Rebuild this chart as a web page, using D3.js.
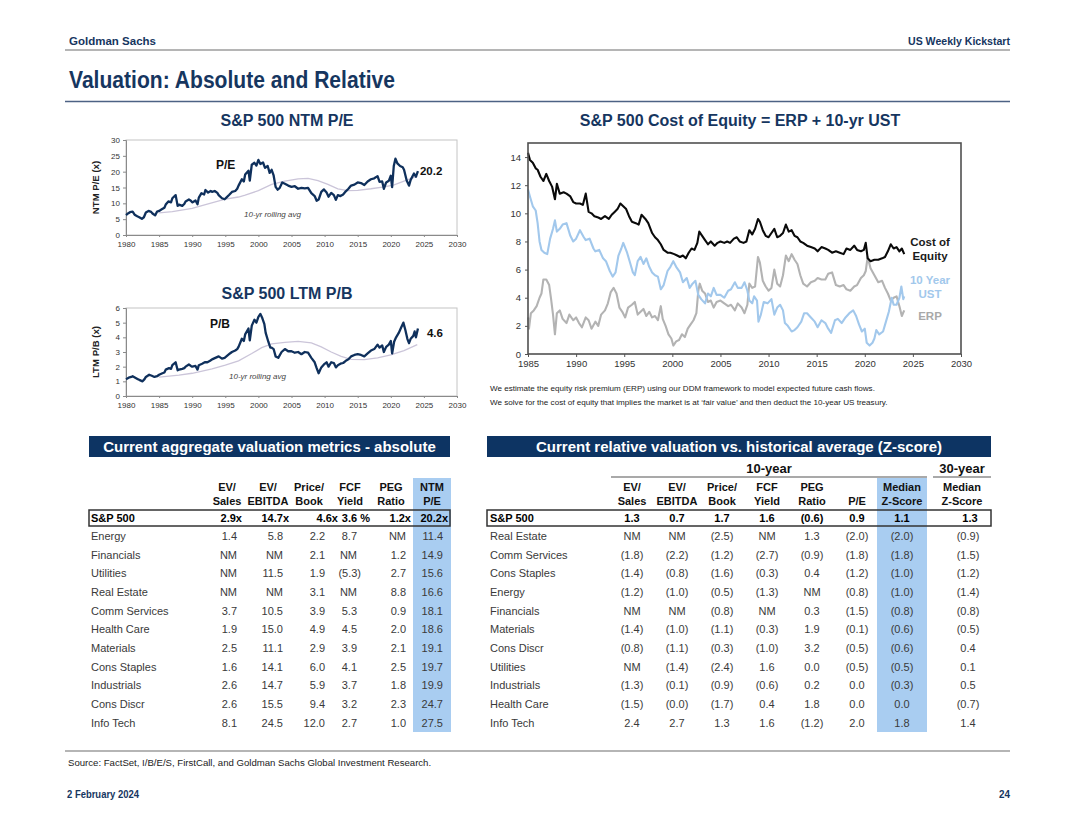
<!DOCTYPE html>
<html>
<head>
<meta charset="utf-8">
<script src="https://cdn.jsdelivr.net/npm/d3@7"></script>
<style>
body { margin: 0; background: #fff; }
svg { display: block; font-family: "Liberation Sans", Arial, sans-serif; }
</style>
</head>
<body>
<svg id="page" width="1080" height="835"></svg>
<script>
// ---- data ----
const peSeries = [[1980,6.3],[1980.3,6.8],[1980.6,7.2],[1981,7.4],[1981.3,6.4],[1981.7,5.9],[1982,5.6],[1982.4,5.1],[1982.7,5.6],[1983,7.1],[1983.4,7.6],[1983.8,7.3],[1984,6.8],[1984.4,6.2],[1984.7,7.4],[1985,7.6],[1985.4,8.1],[1985.8,8.6],[1986,9.6],[1986.4,10.6],[1986.8,10.3],[1987,11.6],[1987.5,12.6],[1987.8,9.2],[1988,9.6],[1988.5,9.2],[1988.8,9.8],[1989,10.6],[1989.5,11.2],[1989.8,10.8],[1990,10.3],[1990.5,10.9],[1990.8,9.7],[1991,11.8],[1991.4,13.2],[1991.8,12.8],[1992,14.2],[1992.4,13.4],[1992.8,13.9],[1993,13.6],[1993.4,13.9],[1993.8,13.3],[1994,12.6],[1994.5,11.6],[1994.9,11.3],[1995.2,11.9],[1995.6,12.7],[1996,13.6],[1996.5,13.9],[1996.8,14.6],[1997,15.6],[1997.5,17.6],[1997.8,16.9],[1998,19.1],[1998.5,20.3],[1998.7,17.2],[1999,22.2],[1999.4,22.8],[1999.7,21.9],[2000,23.7],[2000.3,22.4],[2000.7,22.9],[2001,21.2],[2001.4,21.8],[2001.7,19.6],[2002,20.6],[2002.3,18.8],[2002.6,15.2],[2002.9,14.3],[2003.2,14.8],[2003.6,16.6],[2004,16.2],[2004.5,15.6],[2005,15.2],[2005.5,15.4],[2006,14.6],[2006.5,14.9],[2007,14.7],[2007.5,14.9],[2008,13.2],[2008.5,12.3],[2008.8,10.8],[2009.1,11.2],[2009.5,13.6],[2009.9,14.4],[2010.3,13.4],[2010.6,12.1],[2011,13.3],[2011.4,12.6],[2011.7,11.1],[2012,12.6],[2012.4,12.3],[2012.8,12.8],[2013.2,13.8],[2013.6,14.6],[2014,15.6],[2014.5,15.9],[2015,16.6],[2015.5,16.4],[2016,15.8],[2016.5,16.9],[2017,17.6],[2017.5,17.9],[2018,18.6],[2018.3,16.8],[2018.7,16.9],[2018.95,14.6],[2019.3,16.6],[2019.7,17.1],[2020,18.7],[2020.2,15.1],[2020.45,21.8],[2020.7,24.1],[2021,22.6],[2021.4,21.8],[2021.8,21.4],[2022,20.6],[2022.4,17.2],[2022.75,15.6],[2023,17.4],[2023.5,19.4],[2023.8,18.4],[2024.1,20.2]];
const peAvg = [[1985,7.0],[1987,7.4],[1990,8.4],[1992,9.6],[1995,11.3],[1997,12.0],[1998,12.6],[2000,14.0],[2002,16.0],[2004,17.0],[2006,17.7],[2007.5,17.9],[2009,17.2],[2010.5,16.0],[2012,14.6],[2013.5,14.0],[2015,14.1],[2017,14.6],[2019,15.2],[2020.5,15.8],[2022,17.0],[2024,18.6]];

const pbSeries = [[1980,1.15],[1980.4,1.25],[1980.8,1.3],[1981,1.35],[1981.4,1.25],[1981.8,1.15],[1982,1.1],[1982.5,1.0],[1982.8,1.15],[1983,1.3],[1983.5,1.45],[1983.9,1.38],[1984.3,1.3],[1984.7,1.35],[1985,1.45],[1985.5,1.55],[1985.8,1.6],[1986,1.8],[1986.5,1.9],[1986.8,1.85],[1987,2.1],[1987.5,2.3],[1987.8,1.75],[1988,1.8],[1988.5,1.85],[1988.8,1.9],[1989,2.0],[1989.5,2.15],[1989.8,2.05],[1990,2.0],[1990.5,2.05],[1990.8,1.8],[1991,2.1],[1991.5,2.2],[1991.9,2.3],[1992.3,2.3],[1992.7,2.4],[1993,2.5],[1993.5,2.6],[1994,2.7],[1994.5,2.55],[1994.9,2.6],[1995.3,2.75],[1995.7,2.9],[1996,3.0],[1996.5,3.1],[1996.8,3.2],[1997,3.35],[1997.5,3.9],[1997.8,3.75],[1998,4.2],[1998.5,4.6],[1998.7,3.8],[1999,4.8],[1999.4,5.2],[1999.7,5.0],[2000,5.4],[2000.3,5.6],[2000.6,5.3],[2000.9,4.9],[2001.1,4.3],[2001.5,3.7],[2001.8,3.3],[2002,3.3],[2002.3,3.2],[2002.6,2.7],[2003,2.6],[2003.5,3.0],[2004,3.2],[2004.5,3.05],[2005,3.05],[2005.5,2.95],[2006,3.0],[2006.5,2.85],[2007,3.0],[2007.5,2.95],[2008,2.6],[2008.5,2.3],[2008.8,1.9],[2009.1,1.55],[2009.5,1.95],[2009.9,2.15],[2010.3,2.3],[2010.6,2.0],[2011,2.3],[2011.4,2.25],[2011.7,1.95],[2012,2.1],[2012.4,2.2],[2012.8,2.25],[2013.2,2.4],[2013.6,2.5],[2014,2.7],[2014.5,2.8],[2015,2.85],[2015.5,2.8],[2016,2.7],[2016.5,2.9],[2017,3.1],[2017.5,3.2],[2018,3.5],[2018.3,3.3],[2018.7,3.45],[2018.95,3.0],[2019.3,3.35],[2019.7,3.5],[2020,3.75],[2020.2,2.9],[2020.5,3.7],[2020.8,4.0],[2021.2,4.3],[2021.6,4.7],[2021.9,5.0],[2022.2,4.5],[2022.5,3.9],[2022.75,3.6],[2023,3.9],[2023.4,4.1],[2023.6,4.4],[2023.8,4.0],[2024.1,4.6]];
const pbAvg = [[1985,1.28],[1988,1.42],[1990,1.55],[1993,1.85],[1995,2.1],[1997,2.4],[1999,2.9],[2000.5,3.3],[2002,3.55],[2004,3.65],[2006,3.72],[2008,3.62],[2009.5,3.35],[2011,3.0],[2012.5,2.7],[2014,2.5],[2016,2.48],[2018,2.6],[2020,2.8],[2022,3.1],[2024,3.5]];

const coeSeries = [[1985,14.3],[1985.2,13.8],[1985.5,13.6],[1985.8,13.2],[1986,13.1],[1986.3,12.6],[1986.6,12.3],[1986.9,12.8],[1987.2,12.3],[1987.5,11.9],[1987.8,11.0],[1988,12.1],[1988.3,11.4],[1988.7,11.5],[1989,11.4],[1989.4,11.2],[1989.7,10.8],[1990,10.7],[1990.4,10.7],[1990.7,10.6],[1991,11.4],[1991.3,10.1],[1991.6,10.0],[1991.9,9.8],[1992.3,9.7],[1992.6,9.6],[1993,9.8],[1993.4,9.6],[1993.7,9.9],[1994,10.1],[1994.3,10.3],[1994.6,10.7],[1994.9,10.5],[1995.2,10.3],[1995.5,9.8],[1995.8,9.4],[1996.2,9.3],[1996.5,9.2],[1996.8,9.9],[1997.2,9.6],[1997.5,9.3],[1997.9,8.6],[1998.2,8.3],[1998.5,8.1],[1998.8,7.8],[1999.1,7.4],[1999.5,7.2],[1999.8,7.2],[2000.2,7.1],[2000.5,7.0],[2000.8,6.9],[2001.1,7.0],[2001.4,6.8],[2001.7,7.2],[2002,7.5],[2002.3,7.4],[2002.6,7.9],[2002.8,8.7],[2003.1,8.4],[2003.4,8.1],[2003.7,7.8],[2004,8.0],[2004.4,7.7],[2004.7,7.9],[2005,8.0],[2005.4,7.9],[2005.7,8.0],[2006,7.9],[2006.4,8.2],[2006.7,8.3],[2007,8.0],[2007.4,7.9],[2007.7,8.0],[2008,8.8],[2008.3,8.5],[2008.6,8.9],[2008.9,9.6],[2009.1,9.4],[2009.4,8.8],[2009.7,8.4],[2010,8.3],[2010.3,8.6],[2010.6,8.9],[2010.9,8.3],[2011.2,8.4],[2011.5,8.6],[2011.8,9.2],[2012.1,8.7],[2012.4,8.8],[2012.7,8.4],[2013,8.3],[2013.3,8.0],[2013.6,7.9],[2014,7.7],[2014.4,7.6],[2014.8,7.5],[2015.1,7.3],[2015.5,7.6],[2015.9,7.5],[2016.2,7.4],[2016.6,7.2],[2017,7.3],[2017.4,7.2],[2017.8,7.1],[2018.1,7.5],[2018.5,7.4],[2018.9,7.7],[2019.2,7.4],[2019.6,7.3],[2019.9,7.4],[2020.1,7.9],[2020.3,6.8],[2020.6,6.6],[2021,6.7],[2021.4,6.7],[2021.8,6.8],[2022.1,6.9],[2022.4,7.3],[2022.7,7.8],[2023,7.5],[2023.3,7.6],[2023.6,7.3],[2023.85,7.5],[2024.1,7.1]];
const ustSeries = [[1985,11.7],[1985.2,11.2],[1985.5,10.5],[1985.8,10.2],[1986,9.3],[1986.2,8.0],[1986.4,7.4],[1986.7,7.2],[1987,7.1],[1987.3,8.2],[1987.6,8.9],[1987.8,9.5],[1988,8.7],[1988.3,8.9],[1988.6,9.2],[1989,9.3],[1989.4,8.4],[1989.7,8.0],[1990,8.2],[1990.4,8.8],[1990.8,8.3],[1991,8.1],[1991.4,8.2],[1991.8,7.5],[1992,7.3],[1992.4,7.4],[1992.8,6.8],[1993.1,6.6],[1993.5,5.9],[1993.8,5.5],[1994.1,5.8],[1994.4,7.0],[1994.7,7.5],[1994.9,7.9],[1995.3,7.2],[1995.6,6.5],[1995.9,5.8],[1996.1,5.6],[1996.4,6.6],[1996.7,6.9],[1997,6.4],[1997.3,6.8],[1997.6,6.2],[1997.9,5.8],[1998.2,5.6],[1998.5,5.5],[1998.8,4.6],[1999.1,4.9],[1999.5,5.9],[1999.8,6.2],[2000.1,6.6],[2000.4,6.2],[2000.8,5.8],[2001.1,5.1],[2001.5,5.4],[2001.8,4.7],[2002.1,5.0],[2002.4,5.2],[2002.7,4.2],[2003,3.9],[2003.4,3.6],[2003.7,4.3],[2004,4.1],[2004.3,4.7],[2004.6,4.2],[2005,4.2],[2005.4,4.0],[2005.8,4.5],[2006.1,4.6],[2006.5,5.1],[2006.8,4.7],[2007.2,4.7],[2007.5,5.1],[2007.8,4.5],[2008,3.8],[2008.3,3.6],[2008.5,4.1],[2008.8,3.8],[2008.95,2.3],[2009.2,2.8],[2009.5,3.7],[2009.9,3.6],[2010.3,3.9],[2010.6,2.8],[2010.9,3.3],[2011.2,3.5],[2011.5,3.1],[2011.7,2.2],[2012,2.0],[2012.4,1.6],[2012.7,1.7],[2013,1.9],[2013.4,2.3],[2013.7,2.9],[2014,2.9],[2014.4,2.6],[2014.8,2.3],[2015.1,1.9],[2015.5,2.4],[2015.9,2.2],[2016.2,1.8],[2016.5,1.5],[2016.9,2.4],[2017.2,2.5],[2017.6,2.2],[2018,2.6],[2018.4,2.9],[2018.8,3.1],[2019.1,2.7],[2019.4,2.1],[2019.7,1.6],[2020,1.8],[2020.2,0.8],[2020.5,0.6],[2020.8,0.8],[2021,1.1],[2021.2,1.7],[2021.5,1.4],[2021.9,1.6],[2022.2,2.3],[2022.5,3.0],[2022.8,4.0],[2023,3.5],[2023.3,3.5],[2023.6,4.0],[2023.8,4.8],[2024,3.9],[2024.1,4.1]];
const erpSeries = [[1985,2.6],[1985.1,1.8],[1985.3,2.9],[1985.6,3.1],[1985.9,3.4],[1986.2,4.0],[1986.4,4.3],[1986.6,5.3],[1986.9,5.3],[1987.2,4.9],[1987.4,3.9],[1987.6,2.8],[1987.8,1.4],[1988,2.9],[1988.3,3.1],[1988.6,2.5],[1989,2.2],[1989.3,2.8],[1989.7,2.4],[1990,2.6],[1990.3,2.2],[1990.6,1.9],[1991,2.6],[1991.3,2.4],[1991.6,1.8],[1992,2.3],[1992.3,2.0],[1992.6,2.8],[1993,3.1],[1993.3,3.6],[1993.6,4.4],[1993.9,4.7],[1994.2,4.3],[1994.5,3.3],[1994.8,3.0],[1995.1,2.6],[1995.4,3.3],[1995.8,3.5],[1996.1,3.7],[1996.4,2.8],[1996.7,3.0],[1997,3.2],[1997.3,2.7],[1997.6,3.0],[1997.9,2.6],[1998.2,2.7],[1998.5,2.4],[1998.8,3.4],[1999,2.5],[1999.3,2.0],[1999.6,1.4],[1999.9,1.1],[2000.1,0.6],[2000.4,0.9],[2000.7,1.0],[2001,1.4],[2001.3,1.2],[2001.6,1.8],[2001.9,2.1],[2002.2,2.4],[2002.5,2.9],[2002.7,4.5],[2002.85,5.0],[2003.1,4.5],[2003.4,4.3],[2003.7,3.7],[2004,3.8],[2004.3,3.3],[2004.6,3.7],[2005,3.8],[2005.4,3.6],[2005.8,3.4],[2006.1,3.5],[2006.5,3.1],[2006.8,3.6],[2007.2,3.3],[2007.5,2.9],[2007.8,3.5],[2008,5.0],[2008.3,4.7],[2008.6,4.8],[2008.9,6.9],[2009.1,6.5],[2009.4,5.2],[2009.7,4.8],[2010,4.5],[2010.3,4.7],[2010.6,6.0],[2010.9,5.0],[2011.2,4.8],[2011.5,5.6],[2011.8,7.0],[2012.1,6.6],[2012.4,7.1],[2012.7,6.7],[2013,6.4],[2013.3,5.6],[2013.6,5.0],[2014,4.8],[2014.4,5.1],[2014.8,5.2],[2015.1,5.4],[2015.5,5.3],[2015.9,5.3],[2016.2,5.7],[2016.6,5.8],[2017,4.9],[2017.4,4.8],[2017.8,4.9],[2018.1,4.6],[2018.5,4.5],[2018.9,4.8],[2019.2,4.9],[2019.6,5.4],[2019.9,5.6],[2020.1,5.9],[2020.3,6.9],[2020.6,6.1],[2021,5.6],[2021.4,5.1],[2021.8,5.2],[2022.1,4.7],[2022.4,4.3],[2022.7,3.8],[2023,4.0],[2023.3,4.1],[2023.6,3.4],[2023.85,2.7],[2024.1,3.1]];

const absSectors = ["Energy","Financials","Utilities","Real Estate","Comm Services","Health Care","Materials","Cons Staples","Industrials","Cons Discr","Info Tech"];
const absHeaders = [["EV/","Sales"],["EV/","EBITDA"],["Price/","Book"],["FCF","Yield"],["PEG","Ratio"],["NTM","P/E"]];
const absIndex = ["2.9x","14.7x","4.6x","3.6 %","1.2x","20.2x"];
const absValues = [
  ["1.4","5.8","2.2","8.7","NM","11.4"],
  ["NM","NM","2.1","NM","1.2","14.9"],
  ["NM","11.5","1.9","(5.3)","2.7","15.6"],
  ["NM","NM","3.1","NM","8.8","16.6"],
  ["3.7","10.5","3.9","5.3","0.9","18.1"],
  ["1.9","15.0","4.9","4.5","2.0","18.6"],
  ["2.5","11.1","2.9","3.9","2.1","19.1"],
  ["1.6","14.1","6.0","4.1","2.5","19.7"],
  ["2.6","14.7","5.9","3.7","1.8","19.9"],
  ["2.6","15.5","9.4","3.2","2.3","24.7"],
  ["8.1","24.5","12.0","2.7","1.0","27.5"]
];

const relSectors = ["Real Estate","Comm Services","Cons Staples","Energy","Financials","Materials","Cons Discr","Utilities","Industrials","Health Care","Info Tech"];
const relHeaders = [["EV/","Sales"],["EV/","EBITDA"],["Price/","Book"],["FCF","Yield"],["PEG","Ratio"],["","P/E"],["Median","Z-Score"]];
const relIndex = ["1.3","0.7","1.7","1.6","(0.6)","0.9","1.1"];
const relIndex30 = "1.3";
const relValues = [
  ["NM","NM","(2.5)","NM","1.3","(2.0)","(2.0)"],
  ["(1.8)","(2.2)","(1.2)","(2.7)","(0.9)","(1.8)","(1.8)"],
  ["(1.4)","(0.8)","(1.6)","(0.3)","0.4","(1.2)","(1.0)"],
  ["(1.2)","(1.0)","(0.5)","(1.3)","NM","(0.8)","(1.0)"],
  ["NM","NM","(0.8)","NM","0.3","(1.5)","(0.8)"],
  ["(1.4)","(1.0)","(1.1)","(0.3)","1.9","(0.1)","(0.6)"],
  ["(0.8)","(1.1)","(0.3)","(1.0)","3.2","(0.5)","(0.6)"],
  ["NM","(1.4)","(2.4)","1.6","0.0","(0.5)","(0.5)"],
  ["(1.3)","(0.1)","(0.9)","(0.6)","0.2","0.0","(0.3)"],
  ["(1.5)","(0.0)","(1.7)","0.4","1.8","0.0","0.0"],
  ["2.4","2.7","1.3","1.6","(1.2)","2.0","1.8"]
];
const rel30 = ["(0.9)","(1.5)","(1.2)","(1.4)","(0.8)","(0.5)","0.4","0.1","0.5","(0.7)","1.4"];

const smallYearTicks = d3.range(1980, 2031, 5);
const coeYearTicks = d3.range(1985, 2031, 5);

// ---- styles ----
const navy = "#16365f";
const banner = "#0d3463";
const textGray = "#3a3a3a";
const highlight = "#a9cdf1";

const svg = d3.select("#page");
svg.append("rect").attr("width", 1080).attr("height", 835).attr("fill", "#fff");

// narrow bold text (the report uses Arial Narrow) -> squeeze Liberation Sans to the measured width
const narrowText = (x, y, size, w, txt, anchor) => svg.append("text")
  .attr("x", x).attr("y", y).attr("font-size", size).attr("font-weight", "bold").attr("fill", navy)
  .attr("text-anchor", anchor || "start").attr("textLength", w).attr("lengthAdjust", "spacingAndGlyphs").text(txt);

// ---- page header / footer ----
narrowText(69, 45, 11.8, 87, "Goldman Sachs");
narrowText(1010, 45, 11.8, 102, "US Weekly Kickstart", "end");
svg.append("line").attr("x1", 65).attr("x2", 1010).attr("y1", 50).attr("y2", 50)
  .attr("stroke", "#b5b5b5").attr("stroke-width", 2);
narrowText(69, 88, 23.5, 326, "Valuation: Absolute and Relative");
svg.append("line").attr("x1", 65).attr("x2", 1010).attr("y1", 101.5).attr("y2", 101.5)
  .attr("stroke", "#4d6284").attr("stroke-width", 1.5);

svg.append("line").attr("x1", 65).attr("x2", 1010).attr("y1", 751).attr("y2", 751)
  .attr("stroke", "#b5b5b5").attr("stroke-width", 2);
svg.append("text").attr("x", 68).attr("y", 766).attr("font-size", 9.6).attr("fill", "#222")
  .text("Source: FactSet, I/B/E/S, FirstCall, and Goldman Sachs Global Investment Research.");
narrowText(67, 798, 11.8, 72, "2 February 2024");
narrowText(1010, 798, 11.8, 11, "24", "end");

// ---- small valuation charts (P/E, P/B) ----
const smallChart = (o) => {
  const x = d3.scaleLinear().domain([1980, 2030]).range([126, 457]);
  const y = d3.scaleLinear().domain([0, o.max]).range([o.bottom, o.top]);
  const g = svg.append("g");

  g.append("text").attr("x", 287).attr("y", o.titleY).attr("text-anchor", "middle")
    .attr("font-size", 16).attr("font-weight", "bold").attr("fill", navy).text(o.title);

  g.append("rect").attr("x", x(1980)).attr("y", o.top).attr("width", x(2030) - x(1980))
    .attr("height", o.bottom - o.top).attr("fill", "none").attr("stroke", "#c4c4c4");

  const xa = g.append("g").attr("transform", `translate(0,${o.bottom})`)
    .call(d3.axisBottom(x).tickValues(smallYearTicks).tickFormat(d3.format("d")).tickSize(2).tickPadding(4));
  const ya = g.append("g").attr("transform", `translate(${x(1980)},0)`)
    .call(d3.axisLeft(y).tickValues(d3.range(0, o.max + 0.01, o.step)).tickFormat(d3.format("d")).tickSize(3).tickPadding(3));
  [xa, ya].forEach(a => {
    a.select(".domain").attr("stroke", "#8a8a8a");
    a.selectAll(".tick line").attr("stroke", "#8a8a8a");
    a.selectAll("text").attr("font-size", 8).attr("fill", "#333").attr("font-family", "Liberation Sans, Arial, sans-serif");
  });

  g.append("text").attr("transform", `translate(99,${(o.top + o.bottom) / 2}) rotate(-90)`)
    .attr("text-anchor", "middle").attr("font-size", 9.6).attr("font-weight", "bold").attr("fill", "#222")
    .text(o.yLabel);

  const line = d3.line().x(d => x(d[0])).y(d => y(d[1]));
  g.append("path").datum(o.avg).attr("d", line).attr("fill", "none")
    .attr("stroke", "#cbc5d9").attr("stroke-width", 1.3);
  g.append("path").datum(o.series).attr("d", line).attr("fill", "none")
    .attr("stroke", "#0f305c").attr("stroke-width", 2.3).attr("stroke-linejoin", "round");

  g.append("text").attr("x", o.nameX).attr("y", o.nameY).attr("font-size", 12)
    .attr("font-weight", "bold").attr("fill", "#111").text(o.name);
  const last = o.series[o.series.length - 1];
  g.append("text").attr("x", x(last[0]) + o.lastDx).attr("y", y(last[1]) + o.lastDy).attr("font-size", 11.5)
    .attr("font-weight", "bold").attr("fill", "#111").text(last[1].toFixed(1));
  g.append("text").attr("x", o.avgX).attr("y", o.avgY).attr("font-size", 8)
    .attr("font-style", "italic").attr("fill", "#444").text("10-yr rolling avg");
};

smallChart({ title: "S&P 500 NTM P/E", titleY: 126, top: 140, bottom: 235, max: 30, step: 5,
  yLabel: "NTM P/E (x)", series: peSeries, avg: peAvg, name: "P/E", nameX: 216, nameY: 169,
  avgX: 244, avgY: 217, lastDx: 2, lastDy: 4 });
smallChart({ title: "S&P 500 LTM P/B", titleY: 299, top: 308, bottom: 396, max: 6, step: 1,
  yLabel: "LTM P/B (x)", series: pbSeries, avg: pbAvg, name: "P/B", nameX: 210, nameY: 328,
  avgX: 229, avgY: 379, lastDx: 9, lastDy: 8 });

// ---- cost of equity chart ----
(() => {
  const x = d3.scaleLinear().domain([1985, 2030]).range([528, 961]);
  const y = d3.scaleLinear().domain([0, 15]).range([354, 143]);
  const g = svg.append("g");

  g.append("text").attr("x", 740).attr("y", 126).attr("text-anchor", "middle")
    .attr("font-size", 16).attr("font-weight", "bold").attr("fill", navy)
    .text("S&P 500 Cost of Equity = ERP + 10-yr UST");

  const xa = g.append("g").attr("transform", `translate(0,${y(0)})`)
    .call(d3.axisBottom(x).tickValues(coeYearTicks).tickFormat(d3.format("d")).tickSize(3).tickPadding(3));
  const ya = g.append("g").attr("transform", `translate(${x(1985)},0)`)
    .call(d3.axisLeft(y).tickValues(d3.range(0, 15, 2)).tickSize(3).tickPadding(4));
  [xa, ya].forEach(a => {
    a.select(".domain").remove();
    a.selectAll(".tick line").attr("stroke", "#555");
    a.selectAll("text").attr("font-size", 9.5).attr("fill", "#333").attr("font-family", "Liberation Sans, Arial, sans-serif");
  });

  const line = d3.line().x(d => x(d[0])).y(d => y(d[1]));
  [[erpSeries, "#b3b3b3"], [ustSeries, "#a2c8ec"], [coeSeries, "#0a0a0a"]].forEach(([s, c]) => {
    g.append("path").datum(s).attr("d", line).attr("fill", "none")
      .attr("stroke", c).attr("stroke-width", 2.1).attr("stroke-linejoin", "round");
  });

  g.append("rect").attr("x", x(1985)).attr("y", y(15)).attr("width", x(2030) - x(1985))
    .attr("height", y(0) - y(15)).attr("fill", "none").attr("stroke", "#505050").attr("stroke-width", 1.6);

  const labels = [["Cost of", 246, "#1a1a1a"], ["Equity", 260, "#1a1a1a"], ["10 Year", 284, "#a2c8ec"],
    ["UST", 298, "#a2c8ec"], ["ERP", 320, "#a8a8a8"]];
  g.selectAll(".lab").data(labels).enter().append("text")
    .attr("x", 930).attr("y", d => d[1]).attr("text-anchor", "middle").attr("font-size", 11.5)
    .attr("font-weight", "bold").attr("fill", d => d[2]).text(d => d[0]);

  g.append("text").attr("x", 490).attr("y", 390.5).attr("font-size", 8.1).attr("fill", "#222")
    .text("We estimate the equity risk premium (ERP) using our DDM framework to model expected future cash flows.");
  g.append("text").attr("x", 490).attr("y", 404.5).attr("font-size", 8.1).attr("fill", "#222")
    .text("We solve for the cost of equity that implies the market is at \u2018fair value\u2019 and then deduct the 10-year US treasury.");
})();

// ---- tables ----
const bannerBox = (x0, x1, label) => {
  svg.append("rect").attr("x", x0).attr("y", 436).attr("width", x1 - x0).attr("height", 21).attr("fill", banner);
  svg.append("text").attr("x", (x0 + x1) / 2).attr("y", 452).attr("text-anchor", "middle")
    .attr("font-size", 15).attr("font-weight", "bold").attr("fill", "#fff").text(label);
};

// absolute table
(() => {
  bannerBox(89, 450, "Current aggregate valuation metrics - absolute");
  const cols = d3.range(absHeaders.length);
  const xc = d3.scalePoint().domain(cols).range([227, 432]);
  const xr = d3.scaleOrdinal(cols, [237, 283, 325, 357, 406, 443]);
  const xi = d3.scaleOrdinal(cols, [242, 289, 338, 370, 411, 448]);
  const y = d3.scalePoint().domain(absSectors).range([536, 722.5]);
  const g = svg.append("g").attr("font-size", 11);

  g.append("rect").attr("x", 413).attr("y", 478).attr("width", 38).attr("height", 254).attr("fill", highlight);

  cols.forEach(c => {
    absHeaders[c].forEach((t, i) => g.append("text").attr("x", xc(c)).attr("y", 491 + i * 13.5)
      .attr("text-anchor", "middle").attr("font-weight", "bold").attr("fill", "#111").text(t));
  });

  g.append("rect").attr("x", 89).attr("y", 510).attr("width", 361).attr("height", 16)
    .attr("fill", "none").attr("stroke", "#333").attr("stroke-width", 1.5);
  g.append("text").attr("x", 91).attr("y", 522).attr("font-weight", "bold").attr("fill", "#000").text("S&P 500");
  cols.forEach(c => g.append("text").attr("x", xi(c)).attr("y", 522).attr("text-anchor", "end")
    .attr("font-weight", "bold").attr("fill", "#000").text(absIndex[c]));

  absSectors.forEach((s, r) => {
    g.append("text").attr("x", 91).attr("y", y(s) + 4).attr("fill", textGray).text(s);
    absValues[r].forEach((v, c) => g.append("text")
      .attr("x", xr(c) + (v.startsWith("(") ? 4 : 0)).attr("y", y(s) + 4)
      .attr("text-anchor", "end").attr("fill", textGray).text(v));
  });
})();

// relative table
(() => {
  bannerBox(487, 991, "Current relative valuation vs. historical average (Z-score)");
  const cols = d3.range(relHeaders.length);
  const xc = d3.scalePoint().domain(cols).range([632, 902]);
  const x30 = 968;
  const y = d3.scalePoint().domain(relSectors).range([536, 722.5]);
  const g = svg.append("g").attr("font-size", 11);

  g.append("rect").attr("x", 877).attr("y", 478).attr("width", 50).attr("height", 254).attr("fill", highlight);

  g.append("text").attr("x", 769).attr("y", 473).attr("text-anchor", "middle")
    .attr("font-size", 13).attr("font-weight", "bold").attr("fill", "#111").text("10-year");
  g.append("text").attr("x", 962).attr("y", 473).attr("text-anchor", "middle")
    .attr("font-size", 13).attr("font-weight", "bold").attr("fill", "#111").text("30-year");
  g.append("line").attr("x1", 611).attr("x2", 927).attr("y1", 477).attr("y2", 477).attr("stroke", "#8c8c8c").attr("stroke-width", 1.5);
  g.append("line").attr("x1", 933).attr("x2", 991).attr("y1", 477).attr("y2", 477).attr("stroke", "#8c8c8c").attr("stroke-width", 1.5);

  cols.forEach(c => {
    relHeaders[c].forEach((t, i) => g.append("text").attr("x", xc(c)).attr("y", 491 + i * 13.5)
      .attr("text-anchor", "middle").attr("font-weight", "bold").attr("fill", "#111").text(t));
  });
  ["Median", "Z-Score"].forEach((t, i) => g.append("text").attr("x", 962).attr("y", 491 + i * 13.5)
    .attr("text-anchor", "middle").attr("font-weight", "bold").attr("fill", "#111").text(t));

  g.append("rect").attr("x", 487).attr("y", 510).attr("width", 504).attr("height", 16)
    .attr("fill", "none").attr("stroke", "#333").attr("stroke-width", 1.5);
  g.append("text").attr("x", 490).attr("y", 522).attr("font-weight", "bold").attr("fill", "#000").text("S&P 500");
  cols.forEach(c => g.append("text").attr("x", xc(c)).attr("y", 522).attr("text-anchor", "middle")
    .attr("font-weight", "bold").attr("fill", "#000").text(relIndex[c]));
  g.append("text").attr("x", x30 + 2).attr("y", 522).attr("text-anchor", "middle")
    .attr("font-weight", "bold").attr("fill", "#000").text(relIndex30);

  relSectors.forEach((s, r) => {
    g.append("text").attr("x", 490).attr("y", y(s) + 4).attr("fill", textGray).text(s);
    relValues[r].forEach((v, c) => g.append("text").attr("x", xc(c)).attr("y", y(s) + 4)
      .attr("text-anchor", "middle").attr("fill", textGray).text(v));
    g.append("text").attr("x", x30).attr("y", y(s) + 4).attr("text-anchor", "middle")
      .attr("fill", textGray).text(rel30[r]);
  });
})();
</script>
</body>
</html>
